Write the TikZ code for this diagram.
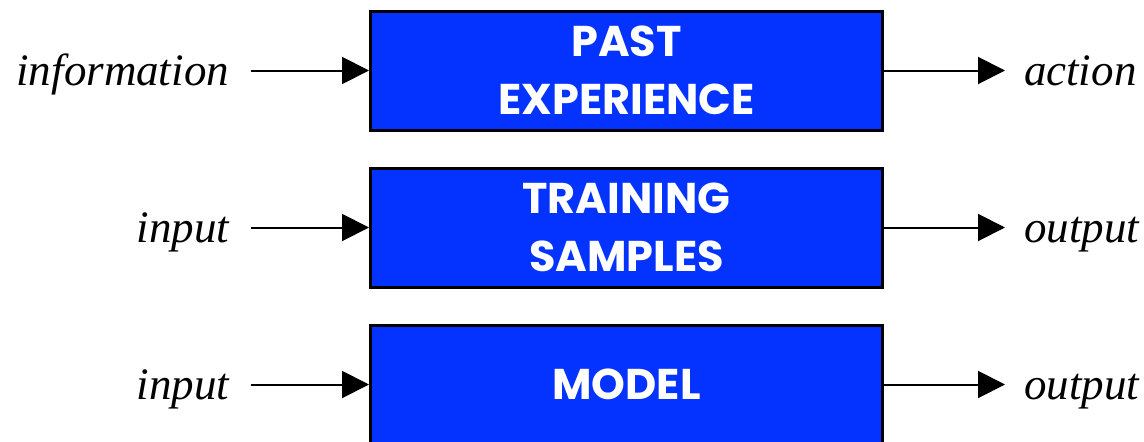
\documentclass[tikz,border=0pt]{standalone}
\usepackage{fontspec}
\setmainfont{Liberation Serif}
\setsansfont{Poppins}
\usetikzlibrary{arrows.meta, positioning}
\definecolor{bl}{HTML}{0433FF}

\begin{document}
\begin{tikzpicture}[
      > = {Triangle[length=27pt, width=27pt]}, % arrow head style
      x = 1pt, y = 1pt,
      node distance = 35pt, % distance between boxes
      line width = 2pt, % line style
    ]

    \tikzset{
      block/.style = {
        draw = black,
        line width = 3pt,
        fill = bl,
        text = white,
        minimum width = 512pt,
        minimum height = 119pt,
        align = center,
        font = \sffamily\bfseries\fontsize{43}{58}\selectfont
      },
      lbl/.style = {
        inner sep = 0pt,
        font = \itshape\fontsize{45}{50}\selectfont
      }
    }

    \clip (0, 0) rectangle (1144, -442);
    \useasboundingbox (0, 0) rectangle (1144, -442);

    \node[block] (past) at (626.5, -70.5) {PAST\\EXPERIENCE};
    \node[block, below = of past] (train) {TRAINING\\SAMPLES};
    \node[block, below = of train] (model) {MODEL};

    \coordinate[left = 118pt of past.west] (pastin);
    \coordinate[left = 118pt of train.west] (trainin);
    \coordinate[left = 118pt of model.west] (modelin);
    \coordinate[right = 121pt of past.east] (pastout);
    \coordinate[right = 121pt of train.east] (trainout);
    \coordinate[right = 121pt of model.east] (modelout);

    \node[lbl, anchor = base east] (info) at ([xshift=-21pt, yshift=-15pt]pastin) {information};
    \node[lbl, anchor = base east] (in1) at ([xshift=-21pt, yshift=-15pt]trainin) {input};
    \node[lbl, anchor = base east] (in2) at ([xshift=-21pt, yshift=-15pt]modelin) {input};
    \node[lbl, anchor = base west] (act) at ([xshift=18pt, yshift=-15pt]pastout) {action};
    \node[lbl, anchor = base west] (out1) at ([xshift=18pt, yshift=-15pt]trainout) {output};
    \node[lbl, anchor = base west] (out2) at ([xshift=18pt, yshift=-15pt]modelout) {output};

    \draw[->] (pastin) -- (past);
    \draw[->] (trainin) -- (train);
    \draw[->] (modelin) -- (model);
    \draw[->] (past) -- (pastout);
    \draw[->] (train) -- (trainout);
    \draw[->] (model) -- (modelout);

  \end{tikzpicture}
\end{document}
